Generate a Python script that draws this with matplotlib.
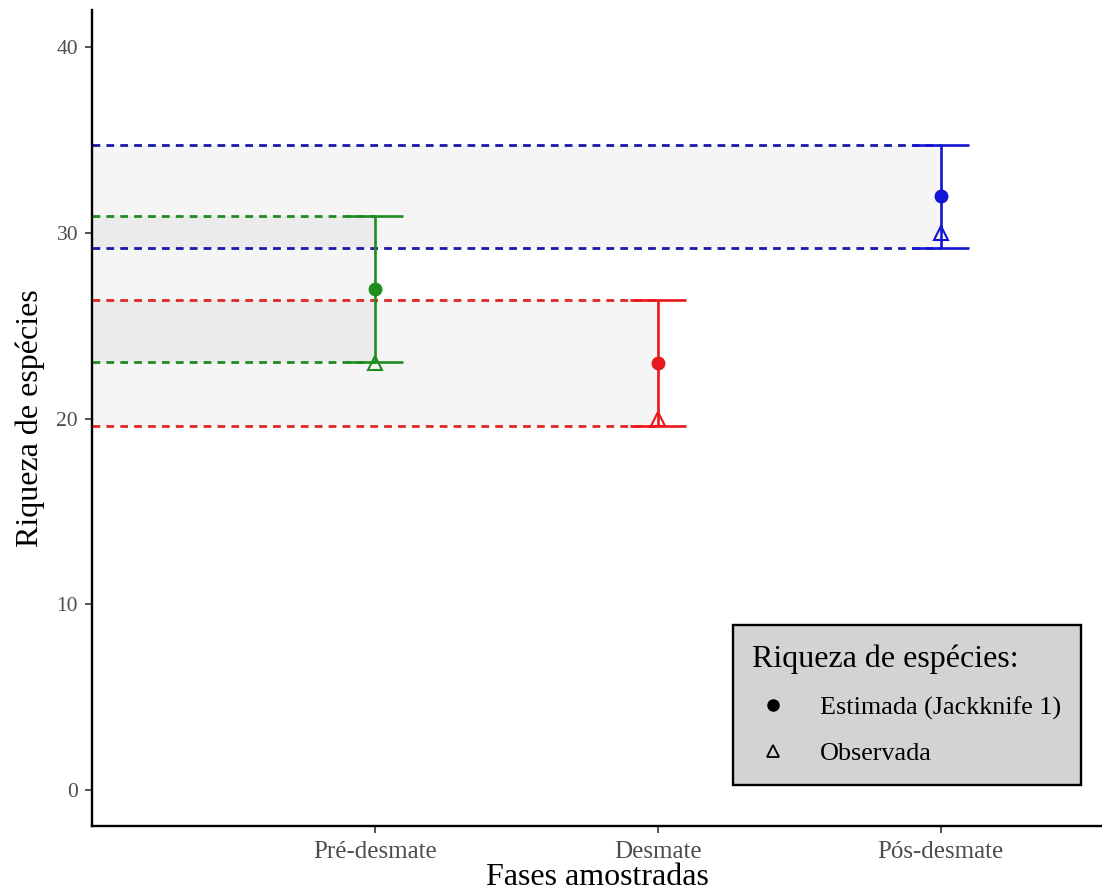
import matplotlib.pyplot as plt
import numpy as np
from matplotlib.lines import Line2D
from matplotlib.patches import Rectangle

plt.rcParams["font.family"] = ["Liberation Serif", "DejaVu Serif"]

# data
phases = ["Pré-desmate", "Desmate", "Pós-desmate"]
estimated = [27.0, 23.0, 32.0]
observed = [23.0, 20.0, 30.0]
ci_lower = [23.05, 19.6, 29.2]
ci_upper = [30.9, 26.4, 34.75]

bar_colors = ["#1f8c1f", "#e8181c", "#1414d4"]
dash_colors = ["#1f8a1f", "#e02626", "#1a1aa8"]

fig = plt.figure(figsize=(11.02, 8.92), dpi=100)
ax = fig.add_axes([92 / 1102, 66 / 892, 1 - 92 / 1102, (826 - 10) / 892])

xpos = np.arange(1, len(phases) + 1)
x0 = 0.0
x1 = 3.57

# shaded intervals from the left edge to each phase
for i, x in enumerate(xpos):
    ax.add_patch(Rectangle((x0, ci_lower[i]), x - x0, ci_upper[i] - ci_lower[i],
                           facecolor="grey", alpha=0.08, edgecolor="none", zorder=1))

# dashed reference lines
for i, x in enumerate(xpos):
    for yv in (ci_lower[i], ci_upper[i]):
        ax.plot([x0, x], [yv, yv], color=dash_colors[i], lw=2.0,
                linestyle=(0, (2.8, 2.2)), zorder=2)

# error bars, estimated and observed richness
for i, x in enumerate(xpos):
    yerr = [[estimated[i] - ci_lower[i]], [ci_upper[i] - estimated[i]]]
    ax.errorbar([x], [estimated[i]], yerr=yerr, fmt="none", ecolor=bar_colors[i],
                elinewidth=1.9, capsize=20, capthick=1.9, zorder=3)
    ax.plot([x], [estimated[i]], marker="o", ms=9, color=bar_colors[i],
            linestyle="none", zorder=4)
    ax.plot([x], [observed[i]], marker="^", ms=9.5, mfc="none", mec=bar_colors[i],
            mew=1.5, linestyle="none", zorder=4)

ax.set_xlim(x0, x1)
ax.set_ylim(-1.94, 42.0)
ax.set_xticks(xpos)
ax.set_xticklabels(phases)
ax.set_yticks([0, 10, 20, 30, 40])

for side in ("top", "right"):
    ax.spines[side].set_visible(False)
for side in ("left", "bottom"):
    ax.spines[side].set_linewidth(1.7)
    ax.spines[side].set_color("black")

ax.tick_params(axis="both", colors="#333333", labelcolor="#4d4d4d",
               length=5, width=1.2)
ax.tick_params(axis="x", labelsize=18, pad=6)
ax.tick_params(axis="y", labelsize=15.5, pad=5)

ax.set_xlabel("Fases amostradas", fontsize=23, labelpad=0)
ax.set_ylabel("Riqueza de espécies", fontsize=23, labelpad=8)

handles = [
    Line2D([], [], marker="o", color="black", linestyle="none", ms=8),
    Line2D([], [], marker="^", mfc="none", mec="black", mew=1.3, linestyle="none", ms=9),
]
leg = ax.legend(handles, ["Estimada (Jackknife 1)", "Observada"],
                title="Riqueza de espécies:", title_fontsize=23, fontsize=18.8,
                loc="lower right", bbox_to_anchor=(1081 / 1102, 107 / 892),
                bbox_transform=fig.transFigure, fancybox=False, frameon=True,
                facecolor="#d3d3d3", edgecolor="black", framealpha=1,
                alignment="left", borderpad=0.75, labelspacing=0.85,
                handlelength=1.6, handletextpad=1.0, borderaxespad=0)
leg.get_frame().set_linewidth(1.7)

fig.savefig("out.png", dpi=100)
